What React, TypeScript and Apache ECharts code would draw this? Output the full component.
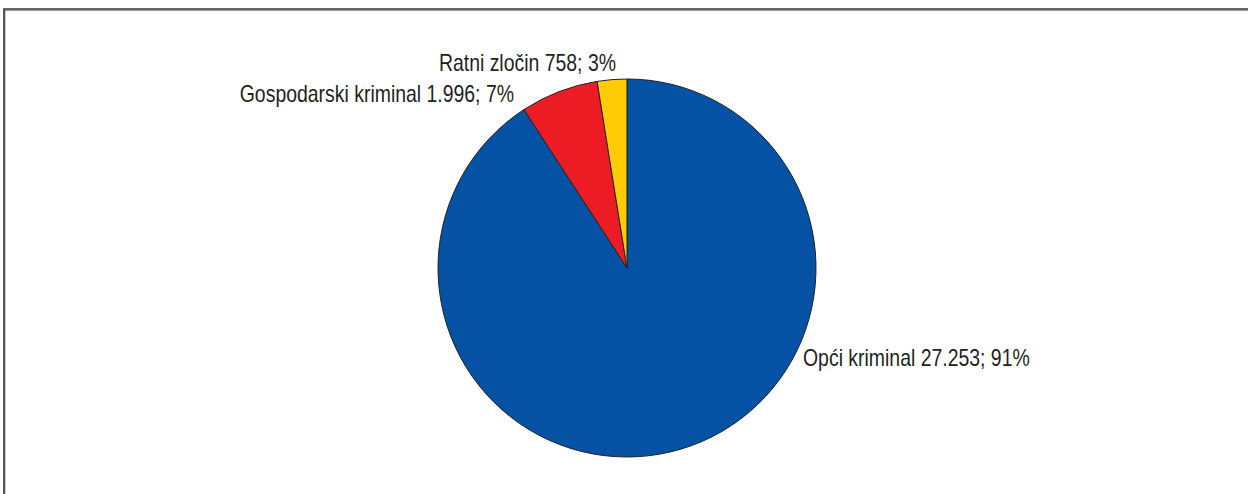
import React, { useEffect, useRef } from "react";
import * as echarts from "echarts";

const categories = ["Opći kriminal", "Gospodarski kriminal", "Ratni zločin"];
const values = [27253, 1996, 758];
const colors = ["#0552a5", "#ed1c24", "#ffcb05"];

// label anchor positions (layout only)
const labelAnchors = [
  { x: 803, y: 358, align: "left" },
  { x: 514, y: 94, align: "right" },
  { x: 616, y: 63, align: "right" },
];

function fmtThousands(v: number): string {
  return String(v).replace(/\B(?=(\d{3})+(?!\d))/g, ".");
}

export default function App() {
  const ref = useRef<HTMLDivElement>(null);
  useEffect(() => {
    if (!ref.current) return;
    const chart = echarts.init(ref.current, null, { renderer: "svg" });
    const font = "'Liberation Sans', Arial, sans-serif";
    const total = values.reduce((a, b) => a + b, 0);
    const labelTexts = categories.map(
      (name, i) =>
        `${name} ${fmtThousands(values[i])}; ${Math.round((values[i] / total) * 100)}%`
    );
    chart.setOption({
      animation: false,
      backgroundColor: "#ffffff",
      graphic: [
        {
          type: "rect",
          shape: { x: 5, y: 10.5, width: 1400, height: 700 },
          style: { fill: "none", stroke: "#9a9a9a", lineWidth: 1 },
          silent: true,
        },
        {
          type: "rect",
          shape: { x: 4, y: 9, width: 1400, height: 700 },
          style: { fill: "none", stroke: "#333333", lineWidth: 1.6 },
          silent: true,
        },
        ...labelTexts.map((t, i) => ({
          type: "text",
          x: labelAnchors[i].x,
          y: labelAnchors[i].y,
          scaleX: 0.845,
          silent: true,
          style: {
            text: t,
            x: 0,
            y: 0,
            fill: "#231f20",
            font: `23px ${font}`,
            textAlign: labelAnchors[i].align,
            textVerticalAlign: "middle",
          },
        })),
      ],
      series: [
        {
          type: "pie",
          center: [627, 268],
          radius: [0, 189],
          startAngle: 90,
          clockwise: true,
          avoidLabelOverlap: false,
          itemStyle: { borderColor: "#222222", borderWidth: 1 },
          emphasis: { disabled: true },
          label: { show: false },
          labelLine: { show: false },
          data: categories.map((name, i) => ({
            name,
            value: values[i],
            itemStyle: { color: colors[i] },
          })),
        },
      ],
    });
    return () => chart.dispose();
  }, []);
  return (
    <div
      ref={ref}
      style={{ position: "absolute", left: 0, top: 0, width: 1248, height: 494 }}
    />
  );
}
